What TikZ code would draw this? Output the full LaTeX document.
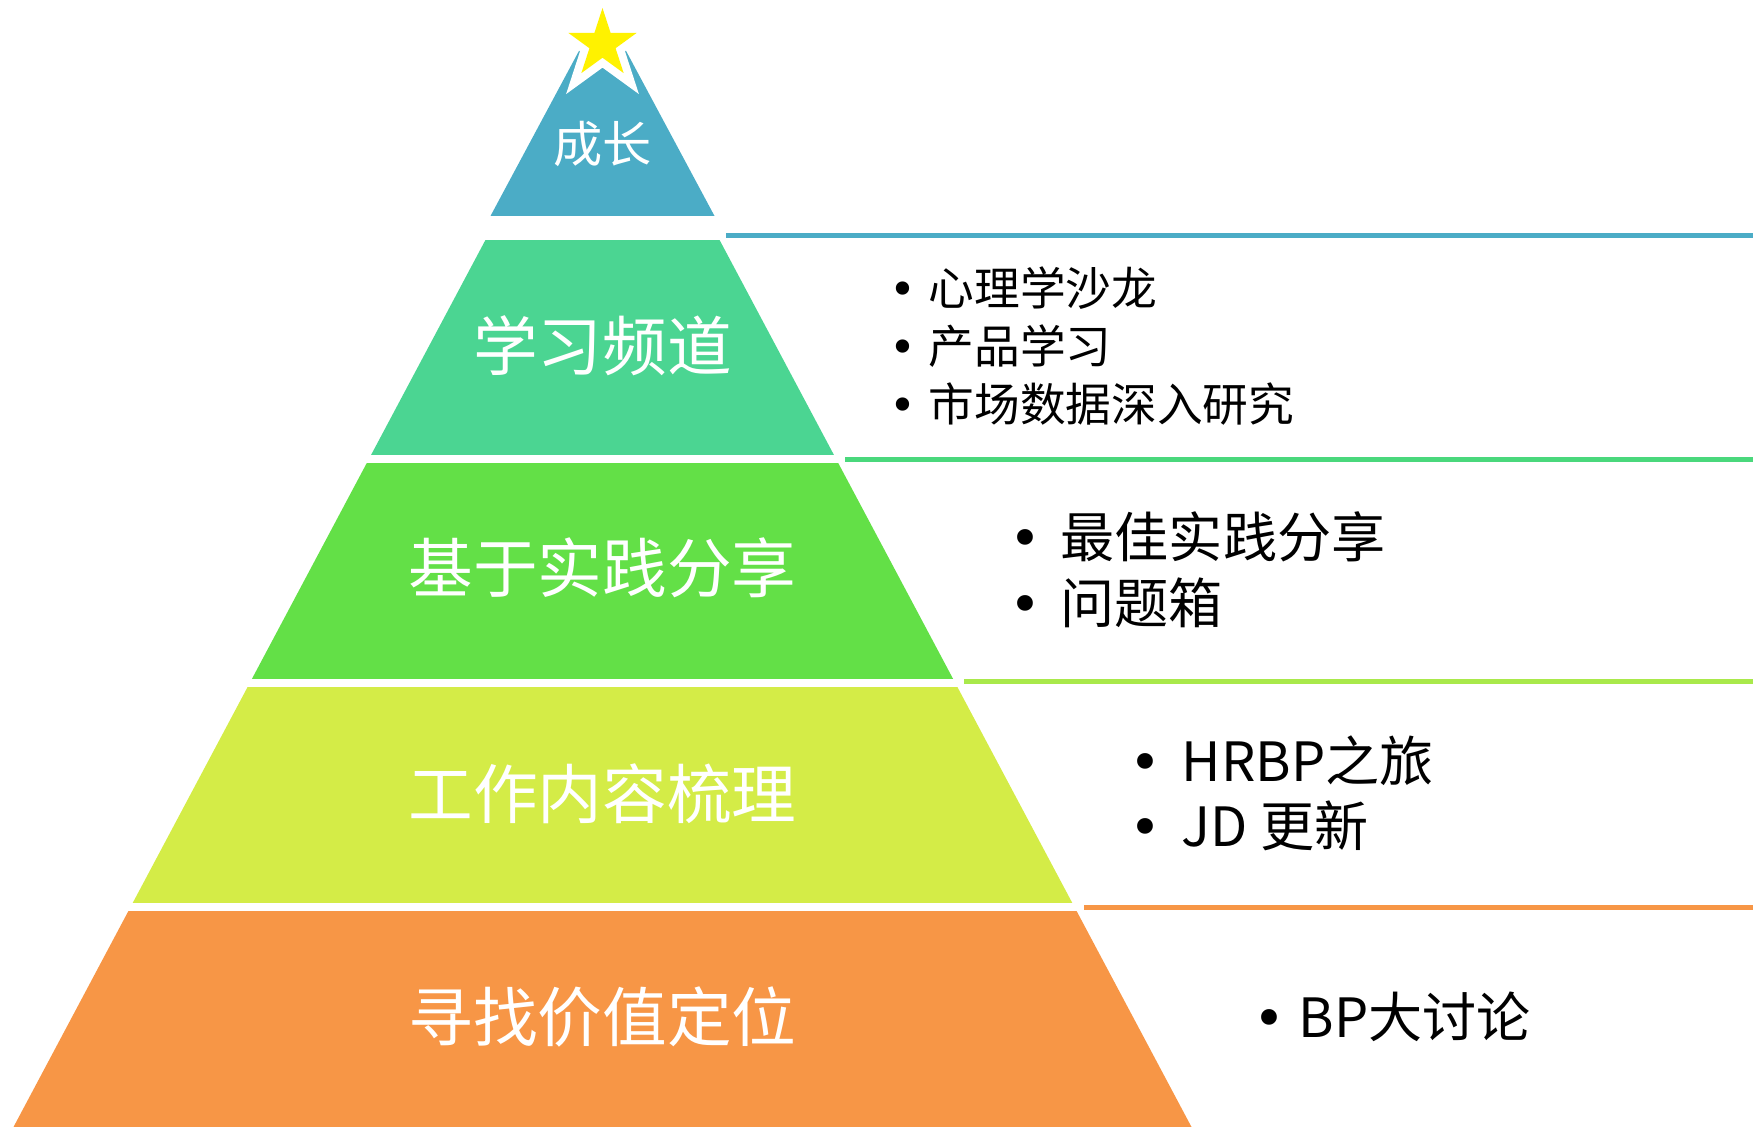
\documentclass[tikz,border=0pt]{standalone}
\usepackage{fontspec}
\setmainfont{Noto Sans CJK SC}
\newfontfamily\dotfont{DejaVu Sans}

\definecolor{tierblue}{HTML}{4BACC6}
\definecolor{tiermint}{HTML}{4BD592}
\definecolor{tiergreen}{HTML}{63E047}
\definecolor{tierlime}{HTML}{D4EC47}
\definecolor{tierorange}{HTML}{F79646}
\definecolor{linemint}{HTML}{4AD87C}
\definecolor{linelime}{HTML}{A9E94B}

\begin{document}
\begin{tikzpicture}[
    tiertext/.style={text=white, inner sep=0pt, font=\fontsize{18.4}{22}\selectfont},
    listtext/.style={anchor=west, inner sep=0pt, font=\fontsize{15.4}{18}\selectfont},
    listsmall/.style={anchor=west, inner sep=0pt, font=\fontsize{13}{16}\selectfont},
    bulletmark/.style={anchor=base, inner sep=0pt, font=\dotfont\fontsize{15.4}{18}\selectfont},
    bulletsmall/.style={anchor=base, inner sep=0pt, font=\dotfont\fontsize{13}{16}\selectfont},
    sepline/.style={line width=0.05cm}
]

        % Canvas
        \useasboundingbox (0,0) rectangle (17.53,11.29);

        % Define the pyramid vertices
        \coordinate (T)  at (6.025,11.22); % sommet du petit triangle
        \coordinate (TL) at (4.905,9.13);
        \coordinate (TR) at (7.145,9.13);
        \coordinate (A)  at (6.025,11.09);
        \coordinate (B)  at (0.135,0.02);
        \coordinate (C)  at (11.915,0.02);
        \coordinate (S)  at (6.025,10.85); % centre de l'etoile

        % Draw top triangle
        \fill[tierblue] (TL) -- (TR) -- (T) -- cycle;

        % Draw the lower tiers
        \begin{scope}
            \clip (A) -- (B) -- (C) -- cycle;
            \fill[tiermint]   (0,6.74) rectangle (12,8.89);
            \fill[tiergreen]  (0,4.50) rectangle (12,6.66);
            \fill[tierlime]   (0,2.26) rectangle (12,4.42);
            \fill[tierorange] (0,0.02) rectangle (12,2.18);
        \end{scope}

        % Draw star
        \begin{scope}[shift={(S)}]
            \draw[white, line width=0.16cm, miter limit=10] (90:0.36)
                \foreach \k in {1,...,9} { -- ({90+36*\k}:{mod(\k,2)==1 ? 0.1375 : 0.36}) } -- cycle;
            \fill[yellow] (90:0.36)
                \foreach \k in {1,...,9} { -- ({90+36*\k}:{mod(\k,2)==1 ? 0.1375 : 0.36}) } -- cycle;
        \end{scope}

        % Tier labels
        \node[tiertext, font=\fontsize{14}{17}\selectfont] (grow) at (6.025,9.85) {成长};
        \node[tiertext] (learn) at (6.025,7.835) {学习频道};
        \node[tiertext] (share) at (6.025,5.61) {基于实践分享};
        \node[tiertext] (work)  at (6.025,3.35) {工作内容梳理};
        \node[tiertext] (value) at (6.025,1.12) {寻找价值定位};

        % Separation lines
        \coordinate (l1a) at (7.26,8.935);  \coordinate (l1b) at (17.53,8.935);
        \coordinate (l2a) at (8.45,6.69);   \coordinate (l2b) at (17.53,6.69);
        \coordinate (l3a) at (9.64,4.47);   \coordinate (l3b) at (17.53,4.47);
        \coordinate (l4a) at (10.84,2.215); \coordinate (l4b) at (17.53,2.215);
        \draw[sepline, tierblue]   (l1a) -- (l1b);
        \draw[sepline, linemint]   (l2a) -- (l2b);
        \draw[sepline, linelime]   (l3a) -- (l3b);
        \draw[sepline, tierorange] (l4a) -- (l4b);

        % Lists
        \node[listsmall] (salon)   at (9.28,8.41) {心理学沙龙};
        \node[listsmall] (product) at (9.28,7.83) {产品学习};
        \node[listsmall] (market)  at (9.28,7.25) {市场数据深入研究};
        \node[bulletsmall] (b1) at (9.03,0 |- salon.base)   {•};
        \node[bulletsmall] (b2) at (9.03,0 |- product.base) {•};
        \node[bulletsmall] (b3) at (9.03,0 |- market.base)  {•};

        \node[listtext] (best) at (10.60,5.92) {最佳实践分享};
        \node[listtext] (box)  at (10.60,5.26) {问题箱};
        \node[bulletmark] (b4) at (10.25,0 |- best.base) {•};
        \node[bulletmark] (b5) at (10.25,0 |- box.base)  {•};

        \node[listtext] (trip) at (11.81,3.68) {HRBP之旅};
        \node[listtext] (jd)   at (11.81,3.03) {JD 更新};
        \node[bulletmark] (b6) at (11.45,0 |- trip.base) {•};
        \node[bulletmark] (b7) at (11.45,0 |- jd.base)   {•};

        \node[listtext] (talk) at (12.98,1.12) {BP大讨论};
        \node[bulletmark] (b8) at (12.69,0 |- talk.base) {•};

\end{tikzpicture}
\end{document}
